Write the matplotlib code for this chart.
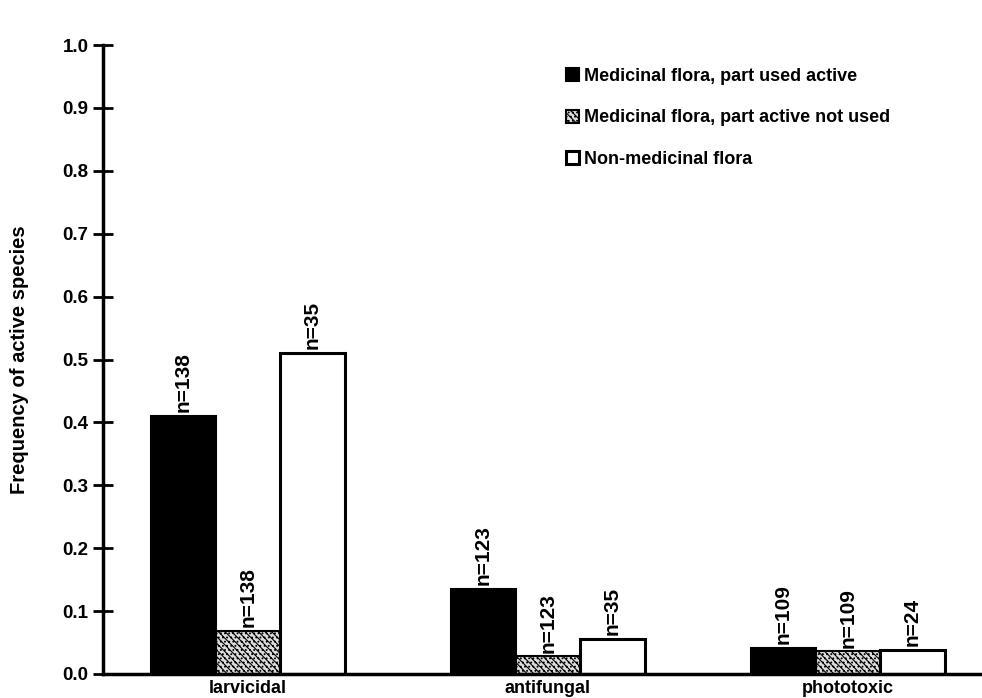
import matplotlib
matplotlib.use("Agg")
import matplotlib.pyplot as plt
import numpy as np

plt.rcParams['font.family'] = ['Liberation Sans', 'DejaVu Sans']
plt.rcParams['font.weight'] = 'bold'
plt.rcParams['hatch.color'] = '#666666'
plt.rcParams['hatch.linewidth'] = 0.8

categories = ['larvicidal', 'antifungal', 'phototoxic']
series_names = ['Medicinal flora, part used active',
                'Medicinal flora, part active not used',
                'Non-medicinal flora']
used_active = [0.41, 0.135, 0.042]
active_not_used = [0.069, 0.028, 0.036]
non_medicinal = [0.51, 0.056, 0.038]
n_used_active = ['n=138', 'n=123', 'n=109']
n_not_used = ['n=138', 'n=123', 'n=109']
n_non_med = ['n=35', 'n=35', 'n=24']

fig = plt.figure(figsize=(9.82, 6.98), dpi=100)
ax = fig.add_axes([0.105, 0.0344, 0.895, 0.901])

x = np.arange(len(categories))
w = 0.215

b1 = ax.bar(x - w, used_active, w, color='black', edgecolor='black', linewidth=1.5,
            label=series_names[0])
b2 = ax.bar(x, active_not_used, w, color='#dcdcdc', edgecolor='black', linewidth=1.5,
            hatch='\\\\\\\\\\....', label=series_names[1])
b3 = ax.bar(x + w, non_medicinal, w, color='white', edgecolor='black', linewidth=2.2,
            label=series_names[2])

# sample sizes written vertically above each bar
for bars, vals, labels in [(b1, used_active, n_used_active),
                           (b2, active_not_used, n_not_used),
                           (b3, non_medicinal, n_non_med)]:
    for rect, v, lab in zip(bars, vals, labels):
        ax.text(rect.get_x() + rect.get_width() / 2, v + 0.006, lab,
                rotation=90, ha='center', va='bottom', fontsize=15, fontweight='bold')

ax.set_xlim(-0.483, 2.447)
ax.set_ylim(0, 1.0)
ax.set_yticks(np.arange(0, 1.01, 0.1))
ax.set_yticklabels(['%.1f' % t for t in np.arange(0, 1.01, 0.1)])
ax.set_xticks(x)
ax.set_xticklabels(categories)
ax.tick_params(axis='x', length=0, pad=4, labelsize=13)
ax.tick_params(axis='y', direction='inout', length=15, width=2, pad=3, labelsize=13.5)

for side in ['top', 'right']:
    ax.spines[side].set_visible(False)
ax.spines['left'].set_linewidth(2.5)
ax.spines['bottom'].set_linewidth(2.5)

ax.set_ylabel('Frequency of active species', fontsize=14.5, fontweight='bold', labelpad=24)

ax.legend(loc='upper left', bbox_to_anchor=(0.518, 0.975), frameon=False,
          fontsize=13, handlelength=0.75, handleheight=0.75, handletextpad=0.25,
          labelspacing=1.35, borderaxespad=0)

fig.savefig('out.png', dpi=100)
